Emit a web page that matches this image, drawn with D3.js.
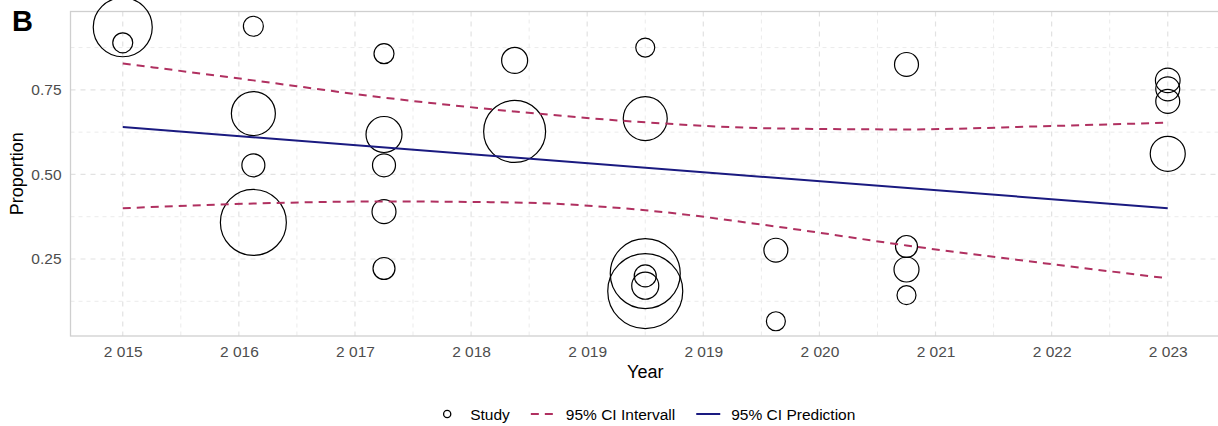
<!DOCTYPE html>
<html>
<head>
<meta charset="utf-8">
<script src="https://cdn.jsdelivr.net/npm/d3@7"></script>
<style>
  html, body { margin: 0; padding: 0; background: #ffffff; }
  svg { display: block; font-family: "Liberation Sans", Arial, Helvetica, sans-serif; }
</style>
</head>
<body>
<svg id="chart" width="1218" height="426"></svg>
<script>
// Studies: publication year, observed proportion and study weight
const studyYear = [2015, 2015, 2016, 2016, 2016, 2016, 2017, 2017, 2017, 2017, 2017,
                   2018, 2018, 2019, 2019, 2019, 2019, 2019, 2019, 2020, 2020,
                   2021, 2021, 2021, 2021, 2023, 2023, 2023, 2023];
const studyProp = [0.935, 0.889, 0.938, 0.680, 0.527, 0.358, 0.857, 0.618, 0.527, 0.390, 0.222,
                   0.837, 0.627, 0.875, 0.665, 0.207, 0.155, 0.200, 0.171, 0.276, 0.066,
                   0.825, 0.287, 0.219, 0.143, 0.778, 0.753, 0.716, 0.561];
const studyWeight = [619, 71, 71, 344, 94, 774, 71, 230, 94, 102, 86,
                     120, 683, 64, 344, 871, 1000, 86, 130, 102, 64,
                     102, 86, 111, 64, 108, 102, 102, 218];

// Fitted meta-regression line
const predYear = [2015, 2023];
const predProp = [0.640, 0.400];

// 95% confidence band around the fit
const ciYear  = [2015, 2016, 2017, 2018, 2019, 2020, 2021, 2022, 2023];
const ciUpper = [0.828, 0.778, 0.727, 0.686, 0.654, 0.636, 0.633, 0.642, 0.653];
const ciLower = [0.400, 0.414, 0.420, 0.417, 0.394, 0.346, 0.290, 0.240, 0.193];

// Axis ticks
const xTickLabels = ["2 015", "2 016", "2 017", "2 018", "2 019", "2 019", "2 020", "2 021", "2 022", "2 023"];
const yTicks = [0.25, 0.50, 0.75];
const yTickLabels = ["0.25", "0.50", "0.75"];

const legendLabels = ["Study", "95% CI Intervall", "95% CI Prediction"];

const COL_CI = "#B03060";
const COL_PRED = "#1a1a80";

const svg = d3.select("#chart");
const panel = { left: 70.5, right: 1220, top: 11.5, bottom: 336 };

function padded(ext, f) {
  const d = ext[1] - ext[0];
  return [ext[0] - f * d, ext[1] + f * d];
}

const x = d3.scaleLinear()
  .domain(padded(d3.extent(studyYear), 0.05))
  .range([panel.left, panel.right]);
const y = d3.scaleLinear()
  .domain(padded(d3.extent(studyProp), 0.05))
  .range([panel.bottom, panel.top]);
const r = d3.scaleSqrt().domain([0, d3.max(studyWeight)]).range([0, 37.5]);

// Break positions: evenly spaced across the year range
const [y0, y1] = d3.extent(studyYear);
const xBreaks = d3.range(xTickLabels.length).map(i => y0 + i * (y1 - y0) / (xTickLabels.length - 1));
const xMinor = d3.range(xBreaks.length - 1).map(i => (xBreaks[i] + xBreaks[i + 1]) / 2);
const yMinor = [0.125, 0.375, 0.625, 0.875];

const grid = svg.append("g");
// minor grid
grid.selectAll(".xminor").data(xMinor).join("line")
  .attr("x1", d => x(d)).attr("x2", d => x(d))
  .attr("y1", panel.top).attr("y2", panel.bottom)
  .attr("stroke", "#ebebeb").attr("stroke-width", 1).attr("stroke-dasharray", "4,4");
grid.selectAll(".yminor").data(yMinor).join("line")
  .attr("x1", panel.left).attr("x2", panel.right)
  .attr("y1", d => y(d)).attr("y2", d => y(d))
  .attr("stroke", "#ebebeb").attr("stroke-width", 1).attr("stroke-dasharray", "4,4");
// major grid
grid.selectAll(".xmajor").data(xBreaks).join("line")
  .attr("x1", d => x(d)).attr("x2", d => x(d))
  .attr("y1", panel.top).attr("y2", panel.bottom)
  .attr("stroke", "#e2e2e2").attr("stroke-width", 1.2).attr("stroke-dasharray", "5,5");
grid.selectAll(".ymajor").data(yTicks).join("line")
  .attr("x1", panel.left).attr("x2", panel.right)
  .attr("y1", d => y(d)).attr("y2", d => y(d))
  .attr("stroke", "#e2e2e2").attr("stroke-width", 1.2).attr("stroke-dasharray", "5,5");

// panel border
svg.append("rect")
  .attr("x", panel.left).attr("y", panel.top)
  .attr("width", panel.right - panel.left).attr("height", panel.bottom - panel.top)
  .attr("fill", "none").attr("stroke", "#cfcfcf").attr("stroke-width", 1.3);

// axes (tick text only)
const xAxis = svg.append("g")
  .attr("transform", `translate(0,${panel.bottom})`)
  .call(d3.axisBottom(x).tickValues(xBreaks).tickSize(0).tickPadding(10)
    .tickFormat((d, i) => xTickLabels[i]));
const yAxis = svg.append("g")
  .attr("transform", `translate(${panel.left},0)`)
  .call(d3.axisLeft(y).tickValues(yTicks).tickSize(0).tickPadding(9)
    .tickFormat((d, i) => yTickLabels[i]));
[xAxis, yAxis].forEach(a => {
  a.select(".domain").remove();
  a.selectAll("text").attr("fill", "#4d4d4d").style("font-size", "15.5px")
    .style("font-family", "'Liberation Sans', Arial, sans-serif");
});

// axis titles
svg.append("text")
  .attr("x", (panel.left + panel.right) / 2).attr("y", 378)
  .attr("text-anchor", "middle").style("font-size", "18px").attr("fill", "#000")
  .text("Year");
svg.append("text")
  .attr("transform", `translate(23,${(panel.top + panel.bottom) / 2}) rotate(-90)`)
  .attr("text-anchor", "middle").style("font-size", "18px").attr("fill", "#000")
  .text("Proportion");

// panel tag
svg.append("text")
  .attr("x", 12).attr("y", 31)
  .style("font-size", "29px").style("font-weight", "bold").attr("fill", "#000")
  .text("B");

// study circles
const studies = studyYear.map((yr, i) => ({ yr, p: studyProp[i], w: studyWeight[i] }));
svg.append("g").selectAll("circle").data(studies).join("circle")
  .attr("cx", d => x(d.yr)).attr("cy", d => y(d.p)).attr("r", d => r(d.w))
  .attr("fill", "none").attr("stroke", "#000").attr("stroke-width", 1.2);

// confidence band
const ciLine = d3.line().curve(d3.curveMonotoneX).x(d => x(d[0])).y(d => y(d[1]));
[ciUpper, ciLower].forEach(arr => {
  svg.append("path")
    .attr("d", ciLine(ciYear.map((yr, i) => [yr, arr[i]])))
    .attr("fill", "none").attr("stroke", COL_CI).attr("stroke-width", 2)
    .attr("stroke-dasharray", "8,6");
});

// prediction line
svg.append("path")
  .attr("d", d3.line().x(d => x(d[0])).y(d => y(d[1]))(predYear.map((yr, i) => [yr, predProp[i]])))
  .attr("fill", "none").attr("stroke", COL_PRED).attr("stroke-width", 2);

// legend
const legend = svg.append("g");
const keyW = 24, keyGap = 11, itemGap = 21, legY = 414;
let cursor = 0;
legendLabels.forEach((lab, i) => {
  const g = legend.append("g").attr("transform", `translate(${cursor},0)`);
  if (i === 0) {
    g.append("circle").attr("cx", keyW / 2).attr("cy", legY).attr("r", 3.6)
      .attr("fill", "none").attr("stroke", "#000").attr("stroke-width", 1.3);
  } else {
    g.append("line").attr("x1", 0).attr("x2", keyW).attr("y1", legY).attr("y2", legY)
      .attr("stroke", i === 1 ? COL_CI : COL_PRED).attr("stroke-width", 2)
      .attr("stroke-dasharray", i === 1 ? "8,6" : null);
  }
  const t = g.append("text").attr("x", keyW + keyGap).attr("y", legY).attr("dy", "0.36em")
    .style("font-size", "15.5px").attr("fill", "#000").text(lab);
  cursor += keyW + keyGap + t.node().getComputedTextLength() + itemGap;
});
const legW = cursor - itemGap;
legend.attr("transform", `translate(${(panel.left + panel.right) / 2 - legW / 2},0)`);
</script>
</body>
</html>
